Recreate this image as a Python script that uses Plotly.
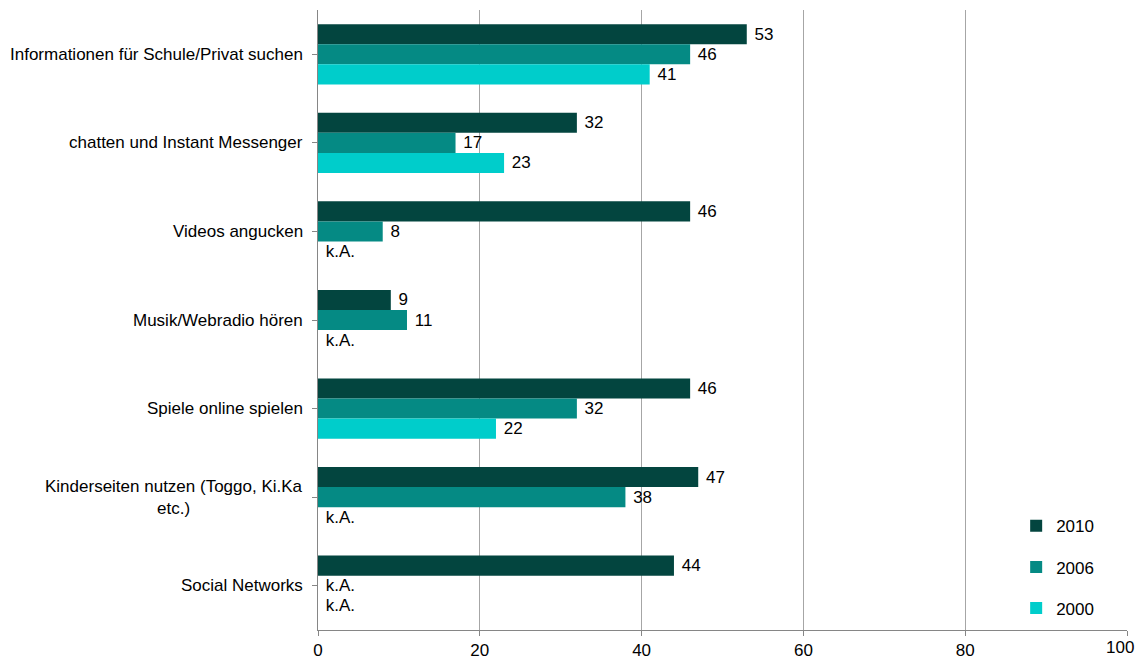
import plotly.graph_objects as go

categories = [
    "Informationen für Schule/Privat suchen",
    "chatten und Instant Messenger",
    "Videos angucken",
    "Musik/Webradio hören",
    "Spiele online spielen",
    "Kinderseiten nutzen (Toggo, Ki.Ka<br>etc.)",
    "Social Networks",
]
years = ["2010", "2006", "2000"]
v2010 = [53, 32, 46, 9, 46, 47, 44]
v2006 = [46, 17, 8, 11, 32, 38, None]
v2000 = [41, 23, None, None, 22, None, None]
colors = {"2010": "#03453F", "2006": "#058A84", "2000": "#00CDCB"}
x_ticks = [0, 20, 40, 60, 80, 100]

FONT = "Liberation Sans, Arial"
FS = 17

fig = go.Figure()
for yr, vals in zip(years, [v2010, v2006, v2000]):
    xs = [v if v is not None else 0 for v in vals]
    txt = [" " + str(v) if v is not None else " k.A." for v in vals]
    fig.add_trace(go.Bar(
        y=list(range(len(categories))), x=xs, name=yr, orientation="h",
        marker=dict(color=colors[yr], line=dict(width=0)),
        text=txt, textposition="outside", cliponaxis=False,
        textfont=dict(family=FONT, size=FS, color="#000000"),
        legendgroup=yr,
    ))

for i, c in enumerate(categories):
    fig.add_annotation(
        x=0, xref="paper", y=i, yref="y", text=c, showarrow=False,
        xanchor="right", align="center", xshift=-13,
        font=dict(family=FONT, size=FS, color="#000000"),
    )

# last x tick label placed as right-anchored text so it stays inside the page
tick_text = [str(t) if t != x_ticks[-1] else "" for t in x_ticks]
fig.add_annotation(
    x=x_ticks[-1], xref="x", y=0, yref="paper", text=str(x_ticks[-1]),
    showarrow=False, xanchor="right", yanchor="top", yshift=-6, xshift=9,
    font=dict(family=FONT, size=FS, color="#000000"),
)

fig.update_layout(
    width=1137, height=651,
    margin=dict(l=310, r=18, t=2, b=29, autoexpand=False),
    plot_bgcolor="white", paper_bgcolor="white",
    barmode="group", bargap=0.32, bargroupgap=0,
    showlegend=True,
    legend=dict(x=0.863, y=0.006, xanchor="left", yanchor="bottom",
                font=dict(family=FONT, size=FS, color="#000000"),
                tracegroupgap=16, itemwidth=30, bgcolor="rgba(0,0,0,0)"),
    font=dict(family=FONT, size=FS, color="#000000"),
)
fig.update_xaxes(range=[0, 100], tickvals=x_ticks, ticktext=tick_text,
                 showgrid=True, gridcolor="#A6A6A6", gridwidth=1,
                 showline=True, linecolor="#868686", linewidth=1,
                 ticks="outside", ticklen=5, tickcolor="#868686",
                 zeroline=False, tickfont=dict(size=FS),
                 automargin=False, ticklabeloverflow="allow")
fig.update_yaxes(range=[len(categories) - 0.5, -0.5], tickvals=list(range(len(categories))),
                 showticklabels=False, showgrid=False,
                 showline=True, linecolor="#868686", linewidth=1,
                 ticks="outside", ticklen=5, tickcolor="#868686", tickson="boundaries",
                 zeroline=False, automargin=False)

fig.write_html("out.html")
